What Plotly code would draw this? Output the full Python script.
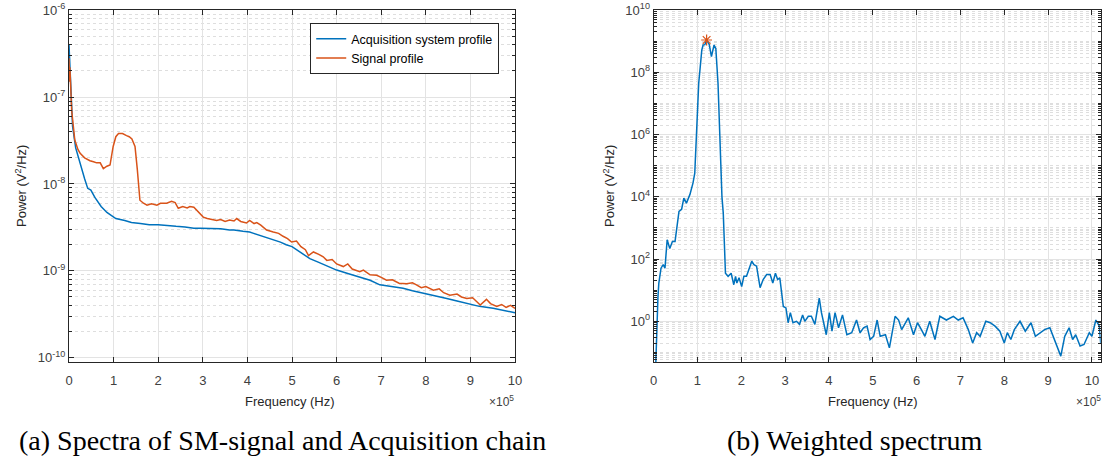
import plotly.graph_objects as go

# frequency in units of 1e5 Hz
acq_f = [0, 0.03, 0.08, 0.15, 0.27, 0.35, 0.42, 0.49, 0.58, 0.72, 0.85, 1.05, 1.25, 1.4, 1.6, 1.8,
         2.0, 2.2, 2.4, 2.6, 2.8, 2.95, 3.2, 3.4, 3.6, 3.7, 3.9, 4.05, 4.14, 4.28, 4.45, 4.6, 4.74,
         4.87, 5.0, 5.2, 5.4, 5.6, 5.8, 6.0, 6.25, 6.52, 6.75, 6.97, 7.2, 7.49, 7.7, 7.94, 8.2,
         8.47, 8.7, 8.92, 9.2, 9.51, 9.75, 10.0]
acq_p = [4.0e-7, 1.6e-7, 4.6e-8, 2.6e-8, 1.55e-8, 1.15e-8, 8.9e-9, 8.5e-9, 7.0e-9, 5.5e-9, 4.7e-9,
         4.0e-9, 3.8e-9, 3.6e-9, 3.5e-9, 3.4e-9, 3.4e-9, 3.3e-9, 3.25e-9, 3.2e-9, 3.1e-9, 3.1e-9,
         3.05e-9, 3.05e-9, 2.95e-9, 2.95e-9, 2.85e-9, 2.8e-9, 2.7e-9, 2.57e-9, 2.4e-9, 2.28e-9,
         2.14e-9, 2.0e-9, 1.9e-9, 1.62e-9, 1.38e-9, 1.25e-9, 1.12e-9, 1.02e-9, 9.3e-10, 8.5e-10,
         7.8e-10, 6.9e-10, 6.6e-10, 6.3e-10, 5.9e-10, 5.5e-10, 5.1e-10, 4.8e-10, 4.5e-10, 4.2e-10,
         3.9e-10, 3.7e-10, 3.5e-10, 3.3e-10]

sig_f = [0, 0.01, 0.02, 0.06, 0.13, 0.2, 0.25, 0.35, 0.47, 0.55, 0.62, 0.7, 0.77, 0.85, 0.92, 0.99,
         1.05, 1.11, 1.2, 1.29, 1.35, 1.41, 1.48, 1.53, 1.59, 1.67, 1.75, 1.85, 1.97, 2.05, 2.19,
         2.3, 2.38, 2.45, 2.55, 2.65, 2.71, 2.8, 2.86, 2.95, 3.01, 3.1, 3.2, 3.31, 3.4, 3.5, 3.6,
         3.7, 3.76, 3.85, 3.98, 4.05, 4.15, 4.21, 4.3, 4.43, 4.58, 4.7, 4.8, 4.9, 4.99, 5.1, 5.2,
         5.3, 5.37, 5.48, 5.6, 5.7, 5.78, 5.9, 6.0, 6.15, 6.25, 6.35, 6.52, 6.6, 6.75, 6.9, 7.0,
         7.12, 7.25, 7.4, 7.57, 7.7, 7.79, 7.9, 8.0, 8.17, 8.3, 8.4, 8.54, 8.7, 8.8, 8.92, 9.05,
         9.15, 9.22, 9.36, 9.45, 9.59, 9.7, 9.8, 9.9, 10.0]
sig_p = [2.8e-7, 1.5e-7, 2.2e-7, 7.0e-8, 3.2e-8, 2.5e-8, 2.25e-8, 2.0e-8, 1.85e-8, 1.8e-8, 1.75e-8,
         1.75e-8, 1.5e-8, 1.6e-8, 1.65e-8, 2.7e-8, 3.5e-8, 3.8e-8, 3.8e-8, 3.6e-8, 3.5e-8, 3.3e-8,
         2.7e-8, 1.5e-8, 6.5e-9, 6.0e-9, 5.7e-9, 5.9e-9, 5.7e-9, 6.0e-9, 6.0e-9, 6.3e-9, 6.1e-9,
         5.25e-9, 5.5e-9, 5.3e-9, 5.5e-9, 5.4e-9, 5.0e-9, 4.4e-9, 4.15e-9, 4.0e-9, 3.9e-9, 3.8e-9,
         3.9e-9, 3.7e-9, 3.85e-9, 3.75e-9, 4.0e-9, 3.7e-9, 3.55e-9, 3.8e-9, 3.5e-9, 3.6e-9, 3.35e-9,
         2.95e-9, 2.8e-9, 2.7e-9, 2.5e-9, 2.35e-9, 2.15e-9, 2.2e-9, 1.9e-9, 1.75e-9, 1.5e-9, 1.65e-9,
         1.55e-9, 1.45e-9, 1.32e-9, 1.35e-9, 1.2e-9, 1.12e-9, 1.2e-9, 1.05e-9, 9.8e-10, 1.02e-9,
         9.0e-10, 8.9e-10, 8.4e-10, 7.8e-10, 7.9e-10, 7.2e-10, 7.1e-10, 7.3e-10, 6.9e-10, 6.4e-10,
         6.6e-10, 6.0e-10, 6.2e-10, 5.6e-10, 5.25e-10, 5.4e-10, 5.0e-10, 4.8e-10, 4.9e-10, 4.4e-10,
         4.05e-10, 4.7e-10, 4.2e-10, 3.9e-10, 4.1e-10, 3.8e-10, 4.0e-10, 3.7e-10]

w_f = [0.05, 0.07, 0.08, 0.10, 0.12, 0.17, 0.22, 0.26, 0.31, 0.37, 0.43, 0.49, 0.58, 0.64, 0.69,
       0.75, 0.83, 0.90, 0.94, 0.98, 1.03, 1.10, 1.13, 1.17, 1.21, 1.27, 1.32, 1.38, 1.42, 1.47,
       1.51, 1.56, 1.59, 1.64, 1.70, 1.77, 1.83, 1.87, 1.90, 1.95, 2.01, 2.06, 2.12, 2.18, 2.24,
       2.29, 2.35, 2.43, 2.50, 2.58, 2.66, 2.72, 2.78, 2.83, 2.88, 2.96, 3.02, 3.07, 3.12, 3.18,
       3.26, 3.33, 3.40, 3.45, 3.53, 3.60, 3.68, 3.78, 3.83, 3.94, 4.01, 4.07, 4.14, 4.22, 4.31,
       4.41, 4.52, 4.63, 4.71, 4.79, 4.87, 4.94, 5.02, 5.10, 5.17, 5.29, 5.38, 5.51, 5.59, 5.66,
       5.74, 5.81, 5.93, 6.02, 6.11, 6.19, 6.30, 6.42, 6.53, 6.68, 6.84, 6.95, 7.06, 7.18, 7.28,
       7.37, 7.45, 7.58, 7.68, 7.79, 7.90, 8.00, 8.07, 8.15, 8.23, 8.36, 8.48, 8.61, 8.71, 8.82,
       8.92, 9.04, 9.14, 9.21, 9.29, 9.38, 9.48, 9.56, 9.63, 9.73, 9.82, 9.94, 10.00, 10.09,
       10.17, 10.2]
w_p = [0.04, 0.5, 1.1, 6, 17, 51, 66, 51, 420, 220, 370, 370, 3400, 4000, 9100,
       6300, 1.2e4, 2.8e4, 5.8e4, 1.8e6, 4.5e7, 5.2e8, 7.6e8, 7.8e8, 1.1e9, 7.9e8, 3.2e8, 7.6e8,
       5.9e8, 4.5e7, 1.1e6, 1.0e4, 3000, 35, 28, 35, 15, 28, 17, 25, 13, 28, 28, 46, 85,
       66, 59, 12, 22, 32, 32, 17, 35, 22, 25, 3.0, 2.7, 0.9, 1.9, 0.9,
       1.0, 0.8, 1.6, 1.0, 1.45, 1.45, 0.8, 5.6, 1.9, 0.37, 1.9, 0.48, 1.9, 0.62, 1.6,
       0.37, 0.43, 1.1, 0.43, 0.62, 0.7, 0.26, 0.33, 1.1, 0.33, 0.37, 0.14, 1.45, 1.1, 0.54,
       0.9, 1.3, 0.37, 0.9, 0.54, 0.33, 1.0, 0.26, 1.45, 1.1, 1.45, 1.1, 1.3, 0.54, 0.2,
       0.43, 0.33, 1.0, 0.9, 0.7, 0.48, 0.2, 0.43, 0.26, 0.54, 1.0, 0.48, 0.9, 0.33, 0.43,
       0.54, 0.62, 0.26, 0.14, 0.076, 0.33, 0.62, 0.26, 0.37, 0.16, 0.18, 0.43, 0.33, 1.1,
       0.7, 0.2]
peak_f = [1.21]
peak_p = [1.1e9]

x_ticks = list(range(0, 11))
left_yticks = [1e-10, 1e-9, 1e-8, 1e-7, 1e-6]
left_ylabels = ["10<sup>-10</sup>", "10<sup>-9</sup>", "10<sup>-8</sup>", "10<sup>-7</sup>", "10<sup>-6</sup>"]
right_yticks = [1e0, 1e2, 1e4, 1e6, 1e8, 1e10]
right_ylabels = ["10<sup>0</sup>", "10<sup>2</sup>", "10<sup>4</sup>", "10<sup>6</sup>", "10<sup>8</sup>", "10<sup>10</sup>"]

BLUE = "#0072BD"
ORANGE = "#D95319"
AX = "#262626"
TXT = "#404040"

fig = go.Figure()
fig.add_trace(go.Scatter(x=acq_f, y=acq_p, mode="lines", name="Acquisition system profile",
                         line=dict(color=BLUE, width=1.5), xaxis="x", yaxis="y"))
fig.add_trace(go.Scatter(x=sig_f, y=sig_p, mode="lines", name="Signal profile",
                         line=dict(color=ORANGE, width=1.5), xaxis="x", yaxis="y"))
fig.add_trace(go.Scatter(x=w_f, y=w_p, mode="lines", showlegend=False,
                         line=dict(color=BLUE, width=1.5), xaxis="x2", yaxis="y2"))
fig.add_trace(go.Scatter(x=peak_f, y=peak_p, mode="markers", showlegend=False,
                         marker=dict(symbol="asterisk-open", size=9, color=ORANGE,
                                     line=dict(color=ORANGE, width=1.2)),
                         xaxis="x2", yaxis="y2"))

common_x = dict(tickvals=x_ticks, ticktext=[str(v) for v in x_ticks], showgrid=True,
                gridcolor="#E3E3E3", showline=True, linecolor=AX, linewidth=1, mirror="ticks",
                ticks="inside", ticklen=5, tickcolor=AX, zeroline=False, automargin=False,
                tickfont=dict(family="Liberation Sans", size=13, color=TXT), ticklabelstandoff=6)
common_y = dict(type="log", showgrid=True, gridcolor="#E3E3E3", showline=True, linecolor=AX,
                linewidth=1, mirror="ticks", ticks="inside", ticklen=5, tickcolor=AX,
                zeroline=False, automargin=False,
                tickfont=dict(family="Liberation Sans", size=13, color=TXT),
                minor=dict(dtick="D1", showgrid=True, gridcolor="#DEDEDE", griddash="dot",
                           ticks="inside", ticklen=3, tickcolor=AX))

fig.update_layout(
    width=1104, height=463,
    margin=dict(l=0, r=0, t=0, b=0, pad=0, autoexpand=False),
    paper_bgcolor="white", plot_bgcolor="white",
    showlegend=True,
    legend=dict(x=0.281, y=0.95, xanchor="left", yanchor="top", bgcolor="white",
                bordercolor=AX, borderwidth=1, tracegroupgap=0, itemwidth=30,
                font=dict(family="Liberation Sans", size=12.5, color="#000000")),
    xaxis=dict(domain=[0.0625, 0.4665], range=[0, 10], anchor="y", **common_x),
    yaxis=dict(domain=[0.218, 0.978], range=[-10.05, -6], anchor="x",
               tickvals=left_yticks, ticktext=left_ylabels, **common_y),
    xaxis2=dict(domain=[0.592, 0.997], range=[0, 10.2], anchor="y2", **common_x),
    yaxis2=dict(domain=[0.218, 0.978], range=[-1.31, 10], anchor="x2",
                tickvals=right_yticks, ticktext=right_ylabels, **common_y),
)

lab = dict(family="Liberation Sans", size=13, color=AX)
cap = dict(family="Liberation Serif", size=28, color="#000000")


def note(px, py, text, font, **kw):
    opts = dict(xanchor="center", yanchor="middle")
    opts.update(kw)
    fig.add_annotation(x=px / 1104, y=1 - py / 463, xref="paper", yref="paper", text=text,
                       showarrow=False, font=font, **opts)


note(290, 401, "Frequency (Hz)", lab)
note(873, 401, "Frequency (Hz)", lab)
note(21, 186, "Power (V<sup>2</sup>/Hz)", lab, textangle=-90)
note(609, 186, "Power (V<sup>2</sup>/Hz)", lab, textangle=-90)
note(516, 401, "×10<sup>5</sup>", dict(family="Liberation Sans", size=12, color=TXT), xanchor="right")
note(1103, 401, "×10<sup>5</sup>", dict(family="Liberation Sans", size=12, color=TXT), xanchor="right")
note(282, 440, "(a) Spectra of SM-signal and Acquisition chain", cap)
note(855, 440, "(b) Weighted spectrum", cap)

# page has a default body margin; drop it
fit = ("document.body.style.margin='0';"
       "document.documentElement.style.overflow='hidden';")
fig.write_html("out.html", config={"displayModeBar": False}, post_script=fit)
